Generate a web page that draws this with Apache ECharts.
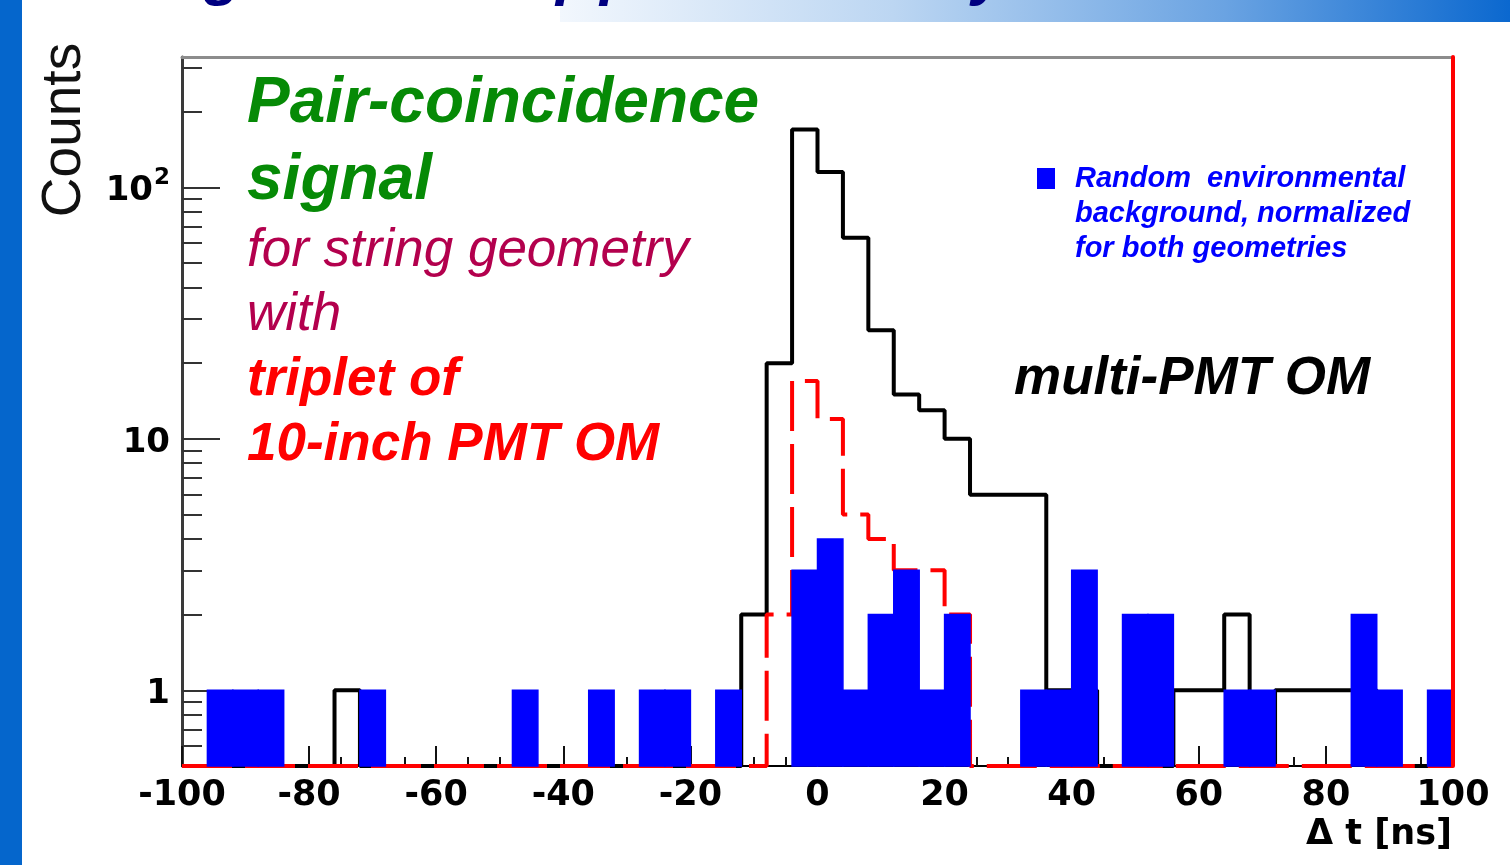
<!DOCTYPE html>
<html lang="en">
<head>
    <meta charset="UTF-8">
    <title>Pair-coincidence signal</title>
    <style>
        body,html{
            margin: 0;
            background: #fff;
        }
        #chart{
            width: 1510px;
            height: 865px;
        }
    </style>
</head>
<body>

<div id="chart"></div>

<script src="https://cdn.jsdelivr.net/npm/echarts@6.0.0/dist/echarts.min.js"></script>
<script type="text/javascript">

    //bins of 4 ns, left edges
    const BIN_WIDTH = 4;
    const binLeft = [-100,-96,-92,-88,-84,-80,-76,-72,-68,-64,
                     -60,-56,-52,-48,-44,-40,-36,-32,-28,-24,
                     -20,-16,-12,-8,-4,0,4,8,12,16,
                     20,24,28,32,36,40,44,48,52,56,
                     60,64,68,72,76,80,84,88,92,96];

    //multi-PMT OM (black line)
    const multiPmt = [0,0,0,0,0,0,1,0,0,0,
                      0,0,0,0,0,0,0,0,0,0,
                      0,0,2,20,170,115,63,27,15,13,
                      10,6,6,6,1,1,0,0,0,1,
                      1,2,0,1,1,1,1,0,0,0];

    //triplet of 10-inch PMT OM (red dashed)
    const tenInch = [0,0,0,0,0,0,0,0,0,0,
                     0,0,0,0,0,0,0,0,0,0,
                     0,0,0,2,17,12,5,4,3,3,
                     2,0,0,0,0,0,0,0,0,0,
                     0,0,0,0,0,0,0,0,0,0];

    //random environmental background (blue filled)
    const background = [0,1,1,1,0,0,0,1,0,0,
                        0,0,0,1,0,0,1,0,1,1,
                        0,1,0,0,3,4,1,2,3,1,
                        2,0,0,1,1,3,0,2,2,0,
                        0,1,1,0,0,0,2,1,0,1];

    const xTicks = {min: -100, max: 100, step: 20};
    const yMajor = [1, 10, 100];
    const yMinor = [0.6,0.7,0.8,0.9,2,3,4,5,6,7,8,9,20,30,40,50,60,70,80,90,200,300];
    const Y_MIN = 0.5, Y_MAX = 330;

    //step line points, empty bins sit on the bottom of the frame
    function stepData(values) {
        let pts = [];
        for (let i = 0; i < values.length; i++) {
            pts.push([binLeft[i], values[i] > 0 ? values[i] : Y_MIN]);
        }
        let last = values[values.length - 1];
        pts.push([binLeft[binLeft.length - 1] + BIN_WIDTH, last > 0 ? last : Y_MIN]);
        return pts;
    }

    function filledBins(values) {
        let out = [];
        for (let i = 0; i < values.length; i++) {
            if (values[i] > 0) out.push([binLeft[i], values[i]]);
        }
        return out;
    }

    function renderBin(params, api) {
        let x0 = api.value(0), v = api.value(1);
        let p0 = api.coord([x0, v]);
        let p1 = api.coord([x0 + BIN_WIDTH, Y_MIN]);
        return {
            type: 'rect',
            shape: {x: p0[0], y: p0[1], width: p1[0] - p0[0], height: p1[1] - p0[1]},
            style: {fill: '#0000ff', stroke: '#0000ff', lineWidth: 1.5}
        };
    }

    const labelFont = 'DejaVu Sans';
    const textFont = '"Liberation Sans", Arial, sans-serif';

    let myChart = echarts.init(document.getElementById("chart"));
    let option = {
        backgroundColor: '#fff',
        animation: false,
        grid: {left: 182, right: 57, top: 57, bottom: 99},
        legend: {
            left: 1037,
            top: 91,
            padding: 0,
            icon: 'rect',
            itemWidth: 18,
            itemHeight: 21,
            selectedMode: false,
            data: ['background'],
            //two empty lines on top so the icon sits on the first text line
            formatter: function () {
                return '\n\nRandom  environmental\nbackground, normalized\nfor both geometries';
            },
            textStyle: {
                color: '#0000ff',
                fontStyle: 'italic',
                fontWeight: 'bold',
                fontSize: 29,
                fontFamily: textFont,
                lineHeight: 35,
                padding: [0, 0, 0, 15]
            }
        },
        xAxis: [
            {
                type: 'value',
                min: xTicks.min,
                max: xTicks.max,
                interval: xTicks.step,
                position: 'bottom',
                splitLine: {show: false},
                axisLine: {onZero: false, lineStyle: {color: '#000', width: 2}},
                axisTick: {inside: true, length: 20, lineStyle: {color: '#111', width: 2}},
                minorTick: {show: true, splitNumber: 4, length: 9, lineStyle: {color: '#111', width: 2}},
                axisLabel: {
                    color: '#000',
                    fontFamily: labelFont,
                    fontWeight: 'bold',
                    fontSize: 35,
                    margin: 12
                }
            },
            {
                //top frame
                type: 'value',
                min: xTicks.min,
                max: xTicks.max,
                position: 'top',
                splitLine: {show: false},
                axisLine: {onZero: false, lineStyle: {color: '#8c8c8c', width: 3}},
                axisTick: {show: false},
                axisLabel: {show: false}
            }
        ],
        yAxis: [
            {
                type: 'log',
                min: Y_MIN,
                max: Y_MAX,
                position: 'left',
                splitLine: {show: false},
                axisLine: {onZero: false, lineStyle: {color: '#3a3a3a', width: 3}},
                axisTick: {inside: true, length: 38, customValues: yMajor, lineStyle: {color: '#333', width: 2}},
                axisLabel: {
                    customValues: yMajor,
                    margin: 12,
                    color: '#000',
                    formatter: function (v) {
                        if (v >= 100) return '{b|10}{sup|2}';
                        return '{b|' + v + '}';
                    },
                    rich: {
                        b: {fontFamily: labelFont, fontWeight: 'bold', fontSize: 34, color: '#000', padding: [8, 0, 0, 0]},
                        sup: {fontFamily: labelFont, fontWeight: 'bold', fontSize: 23, color: '#000', verticalAlign: 'top', padding: [0, 0, 10, 1]}
                    }
                }
            },
            {
                //minor ticks 2..9 per decade
                type: 'log',
                min: Y_MIN,
                max: Y_MAX,
                position: 'left',
                splitLine: {show: false},
                axisLine: {show: false, onZero: false},
                axisTick: {inside: true, length: 20, customValues: yMinor, lineStyle: {color: '#333', width: 2}},
                axisLabel: {show: false}
            },
            {
                //right frame, red
                type: 'log',
                min: Y_MIN,
                max: Y_MAX,
                position: 'right',
                z: 6,
                splitLine: {show: false},
                axisLine: {onZero: false, lineStyle: {color: '#ff0000', width: 4}},
                axisTick: {show: false},
                axisLabel: {show: false}
            }
        ],
        series: [
            {
                name: 'multi-PMT OM',
                type: 'line',
                step: 'end',
                symbol: 'none',
                z: 2,
                data: stepData(multiPmt),
                lineStyle: {color: '#000', width: 4}
            },
            {
                name: '10-inch PMT OM',
                type: 'line',
                step: 'end',
                symbol: 'none',
                z: 3,
                data: stepData(tenInch),
                lineStyle: {color: '#ff0000', width: 4, type: [50, 13]}
            },
            {
                name: 'background',
                type: 'custom',
                z: 4,
                itemStyle: {color: '#0000ff'},
                encode: {x: 0, y: 1},
                renderItem: renderBin,
                data: filledBins(background)
            }
        ],
        graphic: [
            //slide decoration
            {type: 'rect', shape: {x: 0, y: 0, width: 22, height: 865}, style: {fill: '#0566cc'}},
            {
                type: 'rect',
                shape: {x: 560, y: 0, width: 950, height: 22},
                style: {
                    fill: new echarts.graphic.LinearGradient(0, 0, 1, 0, [
                        {offset: 0, color: '#f2f7fd'},
                        {offset: 0.35, color: '#bcd6f2'},
                        {offset: 0.7, color: '#6aa3e2'},
                        {offset: 1, color: '#0b68cf'}
                    ])
                }
            },
            //title above the frame, only the descenders show
            {type: 'text', x: 204, y: -24, style: {text: 'g', font: 'italic bold 62px ' + textFont, fill: '#000080', textVerticalAlign: 'middle'}},
            {type: 'text', x: 556, y: -24, style: {text: 'p', font: 'italic bold 62px ' + textFont, fill: '#000080', textVerticalAlign: 'middle'}},
            {type: 'text', x: 600, y: -24, style: {text: 'p', font: 'italic bold 62px ' + textFont, fill: '#000080', textVerticalAlign: 'middle'}},
            {type: 'text', x: 972, y: -24, style: {text: 'y', font: 'italic bold 62px ' + textFont, fill: '#000080', textVerticalAlign: 'middle'}},

            //axis titles
            {
                type: 'text', x: 65, y: 130, rotation: Math.PI / 2,
                style: {text: 'Counts', font: '55px ' + textFont, fill: '#111', textAlign: 'center', textVerticalAlign: 'middle'}
            },
            {
                type: 'text', x: 1452, y: 835,
                style: {text: '\u0394 t [ns]', font: 'bold 35px ' + labelFont, fill: '#000', textAlign: 'right', textVerticalAlign: 'middle'}
            },

            //annotations
            {type: 'text', x: 247, y: 104, style: {text: 'Pair-coincidence', font: 'italic bold 64px ' + textFont, fill: '#068a06', textVerticalAlign: 'middle'}},
            {type: 'text', x: 247, y: 181, style: {text: 'signal', font: 'italic bold 64px ' + textFont, fill: '#068a06', textVerticalAlign: 'middle'}},
            {type: 'text', x: 247, y: 251, style: {text: 'for string geometry', font: 'italic 53px ' + textFont, fill: '#b3004d', textVerticalAlign: 'middle'}},
            {type: 'text', x: 247, y: 315, style: {text: 'with', font: 'italic 53px ' + textFont, fill: '#b3004d', textVerticalAlign: 'middle'}},
            {type: 'text', x: 247, y: 380, style: {text: 'triplet of', font: 'italic bold 53px ' + textFont, fill: '#ff0000', textVerticalAlign: 'middle'}},
            {type: 'text', x: 247, y: 445, style: {text: '10-inch PMT OM', font: 'italic bold 53px ' + textFont, fill: '#ff0000', textVerticalAlign: 'middle'}},
            {type: 'text', x: 1014, y: 379, style: {text: 'multi-PMT OM', font: 'italic bold 53px ' + textFont, fill: '#000', textVerticalAlign: 'middle'}}
        ]
    };
    myChart.setOption(option);

</script>
</body>
</html>
